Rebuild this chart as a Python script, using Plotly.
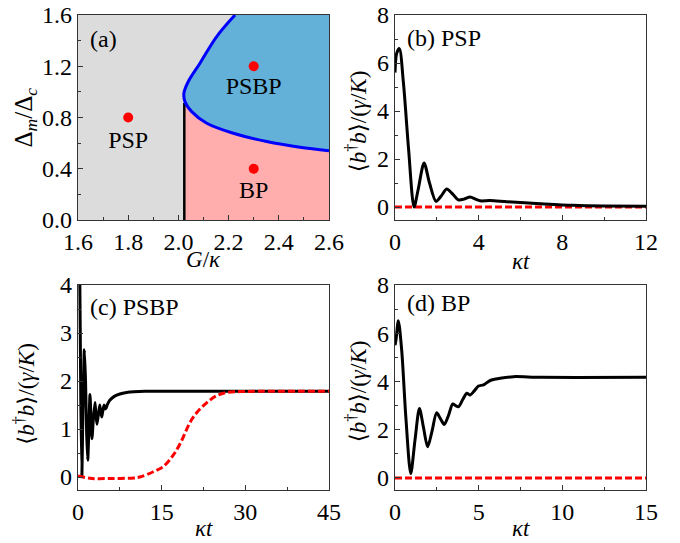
import plotly.graph_objects as go

# ---------------- data ----------------
# (a) phase diagram
G_range = [1.6, 2.6]
D_range = [0.0, 1.6]
vert_G = 2.0235            # black vertical boundary
vert_top = 0.914
# blue boundary curve, from top edge through the nose to right edge
curve_G = [2.2255, 2.1525, 2.086, 2.0395, 2.022, 2.026, 2.053, 2.113, 2.219, 2.352, 2.484, 2.6]
curve_D = [1.6, 1.432, 1.224, 1.081, 0.990, 0.924, 0.846, 0.755, 0.677, 0.612, 0.568, 0.541]
lower_start = 5             # index where the lower branch begins
pts_G = [1.8, 2.3, 2.3]
pts_D = [0.8, 1.2, 0.4]
pts_lab = ["PSP", "PSBP", "BP"]
lab_D = [0.61, 1.03, 0.22]

# (b) PSP
tb = [0, 0.08, 0.21, 0.4, 0.65, 0.91, 1.1, 1.39, 1.65, 1.96, 2.2, 2.47, 2.75, 3.03, 3.3, 3.59, 3.85, 4.07, 4.55, 5.35, 6.94, 8.5, 10.0, 12.0]
nb = [5.6, 6.4, 6.6, 5.2, 2.4, 0.0, 0.7, 1.83, 1.0, 0.24, 0.45, 0.75, 0.55, 0.30, 0.33, 0.42, 0.33, 0.26, 0.27, 0.22, 0.14, 0.07, 0.04, 0.03]
tb_ref = [0, 12]
nb_ref = [0, 0]

# (c) PSBP
tc = [0, 0.3, 0.5, 0.7, 0.88, 1.14, 1.35, 1.55, 1.74, 1.95, 2.15, 2.33, 2.5, 2.75, 3.05, 3.22, 3.4, 3.65, 3.9, 4.08, 4.25, 4.45, 4.67, 4.85, 5.0, 5.3, 5.7, 6.5, 7.5, 8.7, 10.0, 12.0, 20.0, 45.0]
nc = [6.0, 4.4, 1.6, 0.03, 1.4, 2.65, 2.0, 0.9, 0.35, 1.0, 1.72, 1.2, 0.8, 1.2, 1.55, 1.3, 1.1, 1.3, 1.5, 1.35, 1.25, 1.38, 1.5, 1.42, 1.43, 1.52, 1.6, 1.68, 1.73, 1.76, 1.775, 1.785, 1.785, 1.785]
tc_ref = [0, 2.5, 6, 10, 11.1, 13.5, 15.3, 17.1, 18.5, 20.0, 21.2, 23.0, 24.8, 26.6, 29.0, 45.0]
nc_ref = [0.02, -0.03, -0.03, -0.02, 0.0, 0.11, 0.22, 0.46, 0.74, 1.12, 1.33, 1.54, 1.69, 1.76, 1.78, 1.785]

# (d) BP
td = [0, 0.06, 0.2, 0.4, 0.65, 0.94, 1.2, 1.46, 1.7, 1.95, 2.2, 2.49, 2.72, 2.95, 3.2, 3.45, 3.62, 3.79, 4.05, 4.29, 4.49, 4.75, 4.99, 5.29, 5.69, 6.28, 7.08, 8.68, 15.0]
nd = [5.5, 5.73, 6.52, 5.3, 2.5, 0.18, 1.6, 2.88, 2.1, 1.29, 1.9, 2.70, 2.45, 2.22, 2.6, 3.07, 3.0, 2.95, 3.25, 3.51, 3.44, 3.62, 3.81, 3.86, 4.04, 4.13, 4.20, 4.17, 4.17]
td_ref = [0, 15]
nd_ref = [0, 0]

# ---------------- styling ----------------
FONT = "Times New Roman, Liberation Serif, DejaVu Serif, serif"
FS = 24
TFS = 24
AFS = 23
GRAY = "#dcdcdc"
BLUE_FILL = "#63b1d9"
PINK = "#ffadad"
YLAB = "⟨<i>b</i><sup>†</sup><i>b</i>⟩/(<i>γ</i>/<i>K</i>)"
XLAB_A = "<i>G</i>/<i>κ</i>"
YLAB_A = "Δ<sub><i>m</i></sub>/Δ<sub><i>c</i></sub>"
XLAB_T = "<i>κt</i>"

W, H = 680, 543
def xdom(l, r): return [l / W, r / W]
def ydom(t, b): return [1 - b / H, 1 - t / H]

fig = go.Figure()

# ---- panel (a) ----
fig.add_trace(go.Scatter(
    x=[G_range[0], G_range[1], G_range[1], G_range[0], G_range[0]],
    y=[D_range[0], D_range[0], D_range[1], D_range[1], D_range[0]],
    fill="toself", fillcolor=GRAY, line=dict(width=0), mode="lines",
    hoverinfo="skip", xaxis="x", yaxis="y", showlegend=False))
pad_G = 0.15
pad_D = 0.15
blue_x = curve_G + [G_range[1] + pad_G, G_range[1] + pad_G, curve_G[0] - 0.02]
blue_y = curve_D + [curve_D[-1] - 0.02, D_range[1] + pad_D, D_range[1] + pad_D]
fig.add_trace(go.Scatter(x=blue_x, y=blue_y, mode="lines", fill="toself", fillcolor=BLUE_FILL,
                         line=dict(width=0, shape="spline"), hoverinfo="skip",
                         xaxis="x", yaxis="y", showlegend=False))
fig.add_trace(go.Scatter(x=[vert_G] + curve_G[lower_start:], y=[vert_top] + curve_D[lower_start:],
                         mode="lines", fill="tozeroy", fillcolor=PINK,
                         line=dict(width=0, shape="spline"), hoverinfo="skip",
                         xaxis="x", yaxis="y", showlegend=False))
fig.add_trace(go.Scatter(x=[vert_G, vert_G], y=[D_range[0], vert_top], mode="lines",
                         line=dict(color="black", width=2.5), xaxis="x", yaxis="y", showlegend=False))
fig.add_trace(go.Scatter(x=curve_G, y=curve_D, mode="lines",
                         line=dict(color="#0000ff", width=3, shape="spline"),
                         xaxis="x", yaxis="y", showlegend=False))
fig.add_trace(go.Scatter(x=pts_G, y=pts_D, mode="markers",
                         marker=dict(color="#ff0000", size=10), xaxis="x", yaxis="y", showlegend=False))
fig.add_trace(go.Scatter(x=pts_G, y=lab_D, mode="text", text=pts_lab,
                         textfont=dict(family=FONT, size=FS, color="black"),
                         xaxis="x", yaxis="y", showlegend=False))

# ---- panel (b) ----
fig.add_trace(go.Scatter(x=tb_ref, y=nb_ref, mode="lines",
                         line=dict(color="#ff0000", width=3, dash="7px,3px"),
                         xaxis="x2", yaxis="y2", showlegend=False))
fig.add_trace(go.Scatter(x=tb, y=nb, mode="lines",
                         line=dict(color="black", width=3, shape="spline", smoothing=0.8),
                         xaxis="x2", yaxis="y2", showlegend=False))
# ---- panel (c) ----
fig.add_trace(go.Scatter(x=tc, y=nc, mode="lines",
                         line=dict(color="black", width=3, shape="spline", smoothing=0.6),
                         xaxis="x3", yaxis="y3", showlegend=False))
fig.add_trace(go.Scatter(x=tc_ref, y=nc_ref, mode="lines",
                         line=dict(color="#ff0000", width=3, dash="7px,3px", shape="spline"),
                         xaxis="x3", yaxis="y3", showlegend=False))
# ---- panel (d) ----
fig.add_trace(go.Scatter(x=td_ref, y=nd_ref, mode="lines",
                         line=dict(color="#ff0000", width=3, dash="7px,3px"),
                         xaxis="x4", yaxis="y4", showlegend=False))
fig.add_trace(go.Scatter(x=td, y=nd, mode="lines",
                         line=dict(color="black", width=3, shape="spline", smoothing=0.8),
                         xaxis="x4", yaxis="y4", showlegend=False))

def ax(domain, rng, tickvals, minor_dtick, anchor, ticktext=None):
    d = dict(domain=domain, range=rng, tickvals=tickvals, ticks="inside", ticklen=5,
             tickwidth=1, tickcolor="#333", showline=True, linecolor="#333", linewidth=1.2,
             mirror=True, showgrid=False, zeroline=False, anchor=anchor, automargin=False,
             tickfont=dict(family=FONT, size=TFS, color="black"),
             minor=dict(ticks="inside", ticklen=3, dtick=minor_dtick, tickcolor="#333", showgrid=False))
    if ticktext is not None:
        d["ticktext"] = ticktext
    return d

fig.update_layout(
    width=W, height=H, margin=dict(l=0, r=0, t=0, b=0, autoexpand=False),
    paper_bgcolor="white", plot_bgcolor="white", showlegend=False,
    font=dict(family=FONT, size=FS, color="black"),
    xaxis=ax(xdom(78, 329), G_range, [1.6, 1.8, 2.0, 2.2, 2.4, 2.6], 0.1, "y",
             ["1.6", "1.8", "2.0", "2.2", "2.4", "2.6"]),
    yaxis=ax(ydom(15, 220), D_range, [0, 0.4, 0.8, 1.2, 1.6], 0.2, "x",
             ["0.0", "0.4", "0.8", "1.2", "1.6"]),
    xaxis2=ax(xdom(395, 646), [0, 12], [0, 4, 8, 12], 2, "y2"),
    yaxis2=ax(ydom(15, 220), [-0.54, 8], [0, 2, 4, 6, 8], 1, "x2"),
    xaxis3=ax(xdom(78, 329), [0, 45], [0, 15, 30, 45], 7.5, "y3"),
    yaxis3=ax(ydom(285, 490), [-0.27, 4], [0, 1, 2, 3, 4], 0.5, "x3"),
    xaxis4=ax(xdom(395, 646), [0, 15], [0, 5, 10, 15], 2.5, "y4"),
    yaxis4=ax(ydom(285, 490), [-0.5, 8], [0, 2, 4, 6, 8], 1, "x4"),
)

# axis titles
titles = [
    (XLAB_A, "x domain", "y domain", 0.5, -0.195, 0, AFS),
    (YLAB_A, "x domain", "y domain", -0.211, 0.5, -90, AFS + 2),
    (XLAB_T, "x2 domain", "y2 domain", 0.5, -0.2, 0, AFS),
    (YLAB, "x2 domain", "y2 domain", -0.153, 0.48, -90, AFS),
    (XLAB_T, "x3 domain", "y3 domain", 0.5, -0.19, 0, AFS),
    (YLAB, "x3 domain", "y3 domain", -0.211, 0.47, -90, AFS),
    (XLAB_T, "x4 domain", "y4 domain", 0.5, -0.19, 0, AFS),
    (YLAB, "x4 domain", "y4 domain", -0.153, 0.48, -90, AFS),
]
for txt, xr, yr, xv, yv, ang, sz in titles:
    fig.add_annotation(text=txt, xref=xr, yref=yr, x=xv, y=yv, textangle=ang,
                       xanchor="center", yanchor="middle", showarrow=False,
                       font=dict(family=FONT, size=sz, color="black"))

# panel labels
labels = [("(a)", "x", "y", 1.64, 1.41), ("(b) PSP", "x2", "y2", 0.48, 7.04),
          ("(c) PSBP", "x3", "y3", 1.74, 3.54), ("(d) BP", "x4", "y4", 0.6, 7.26)]
for txt, xr, yr, xv, yv in labels:
    fig.add_annotation(text=txt, xref=xr, yref=yr, x=xv, y=yv,
                       xanchor="left", yanchor="middle", showarrow=False,
                       font=dict(family=FONT, size=FS, color="black"))

fig.write_html("out.html", config={"displayModeBar": False},
               post_script="document.body.style.margin='0px';document.body.style.overflow='hidden';")
